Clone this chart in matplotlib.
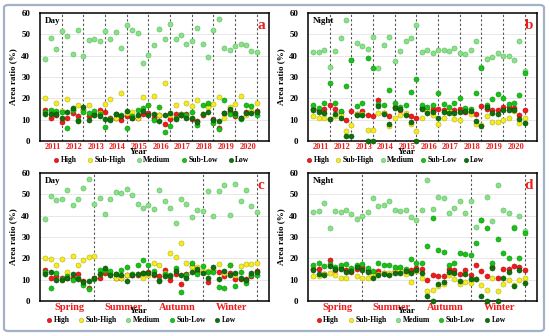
import numpy as np
import matplotlib.pyplot as plt
from matplotlib.lines import Line2D
from matplotlib.patches import FancyBboxPatch

plt.rcParams["font.family"] = ["Liberation Serif", "DejaVu Serif"]
plt.rcParams["font.weight"] = "bold"

years = [str(y) for y in range(2011, 2021)]
seasons = ["Spring", "Summer", "Autumn", "Winter"]
classes = ["High", "Sub-High", "Medium", "Sub-Low", "Low"]
colors = ["#f01c1c", "#f4ec1e", "#86e386", "#16c416", "#0a730a"]
edges = ["#a00000", "#a89e00", "#4fa84f", "#0a7a0a", "#033d03"]

# day, 40 points = 10 years x 4 seasons (spring, summer, autumn, winter)
day_high = [14.6, 11, 12, 9, 11, 13, 11.5, 14.5, 11.5, 12.5,
            14.5, 13.5, 11, 11, 10, 11.5, 11, 11, 12.5, 13,
            11, 12, 8, 10.5, 12.5, 12, 12.5, 10.5, 9.5, 12,
            16.5, 10.5, 6, 13, 14, 11.5, 11, 13.5, 13.5, 14]
day_subhigh = [20.3, 12.5, 18, 14, 19.8, 14.5, 16.7, 15, 17, 12,
               13, 17.2, 19.8, 11, 22.5, 13, 13.5, 11, 20.8, 17,
               21, 12, 27.3, 12, 17, 12.5, 18, 16.5, 19, 12.5,
               16, 17.5, 20.5, 11, 16, 17.5, 21, 12, 14, 18]
day_medium = [38.5, 48.5, 43, 51.5, 49, 41, 52, 40, 47.5, 48,
              47, 51.5, 48, 51, 43.5, 54.5, 52, 50.5, 36.5, 40.3,
              45, 52.5, 48, 55, 48, 49.5, 45.5, 47, 53, 45.5,
              39.5, 52, 57, 43.5, 42.5, 44.5, 45.5, 45, 42, 41.5]
day_sublow = [13.8, 14.5, 14, 13.5, 6, 14.5, 10, 13.8, 13, 14,
              12.5, 6.5, 10.5, 12.5, 12, 6, 11.5, 14.5, 15.5, 17,
              10, 16, 4, 7, 11, 12.5, 12, 13.5, 7.5, 17,
              18, 8.5, 5.5, 19, 12.5, 12, 10.5, 17, 16.5, 12]
day_low = [12.5, 12.8, 12.5, 11, 13.5, 15.5, 9.5, 16, 10, 12,
           11.5, 10.5, 10, 12.5, 11.5, 14, 11, 12, 14, 12,
           12.5, 9.5, 12, 13, 10.5, 12, 11, 11, 9, 12.5,
           13.5, 10, 9.5, 13, 15, 13, 11, 13, 13, 13.5]

night_high = [15, 14.5, 15, 17, 15, 13.5, 10, 14, 12.5, 14,
              12, 11.5, 19, 13, 11.5, 16, 14.5, 12.5, 11.5, 11,
              15.5, 14, 15, 15, 14.5, 14.5, 14.5, 15, 13.5, 13.5,
              12.5, 16.5, 15, 14.5, 14.5, 16, 16, 15.5, 12, 14.5]
night_subhigh = [11.5, 11, 11, 10.5, 11.5, 12, 4.5, 7.5, 12.5, 12.5,
                 5, 5, 13, 13, 7, 11, 12, 13, 8, 4.5,
                 11, 14, 12, 8, 11, 14.5, 10.5, 10, 15, 12.5,
                 8, 7.5, 11.5, 9, 9, 10, 11, 14, 8.5, 11]
night_medium = [41.8, 41.5, 42.5, 34.5, 42.2, 48.3, 56.7, 38, 45.8, 44.5,
                43.2, 48.6, 34, 44.8, 48.9, 37.6, 42.3, 46.8, 48.4, 54.5,
                41.5, 42.8, 41.2, 42.6, 42.8, 42.2, 43.5, 41.2, 40.8, 42.6,
                46.8, 34.5, 38.5, 39.2, 41.2, 40, 39.8, 37.8, 46.8, 33]
night_sublow = [16.8, 15.5, 18, 27, 18, 14, 26, 38, 16.5, 18,
                39, 34, 17.5, 17, 24, 18, 16, 17, 23, 29,
                17, 16, 17, 22.5, 17.5, 16, 18, 20, 15.5, 15,
                22.5, 34, 17, 19.5, 22, 20, 17.5, 18, 21.5, 32]
night_low = [14.5, 13.8, 13, 10.5, 12.5, 11, 2.5, 2.5, 12, 12,
             0, 0, 16.5, 12.5, 8, 15.5, 15, 12, 9, 0,
             15, 13, 13.5, 11, 13.5, 13, 13, 13.5, 14, 14,
             9.5, 7, 16, 13, 12.5, 14.5, 14.5, 14.5, 10.5, 8.5]

day = [day_high, day_subhigh, day_medium, day_sublow, day_low]
night = [night_high, night_subhigh, night_medium, night_sublow, night_low]


def by_season(values):
    """Reordena de (año, estación) a (estación, año)."""
    return np.array(values).reshape(10, 4).T.ravel()


def dibujar_panel(ax, series, group, labels, label_pos, tag, letter,
                  leg_x, colspace):
    x = np.arange(40)
    ax.set_xlim(-1, 41.25)
    ax.set_ylim(0, 60)
    for yv in range(10, 60, 10):
        ax.axhline(yv, color="#e4e4e4", lw=0.6, zorder=0)
    for k in range(group - 1, 40, group):
        ax.axvline(k, color="#555555", lw=0.8, ls=(0, (2, 2)), zorder=1)
    for vals, c, e in zip(series, colors, edges):
        ax.plot(x, vals, "o", ms=3.7, mfc=c, mec=e, mew=0.3,
                clip_on=False, zorder=3)
    ax.set_yticks(range(0, 61, 10))
    ax.set_yticklabels([str(v) for v in range(0, 61, 10)],
                       fontweight="bold", fontsize=6.5)
    ax.set_xticks(label_pos)
    ax.set_xticklabels(labels, color="#f01c1c", fontweight="bold",
                       fontsize=6 if group == 4 else 7.5)
    ax.tick_params(axis="y", length=0, pad=7)
    ax.tick_params(axis="x", length=0, pad=1.5)
    for s in ax.spines.values():
        s.set_linewidth(1.1)
    ax.set_ylabel("Area ratio (%)", fontsize=6.5, fontweight="bold",
                  labelpad=3)
    ax.set_xlabel("Year", fontsize=6.5, fontweight="bold")
    ax.xaxis.set_label_coords(0.43, -0.055 if group == 4 else -0.05)
    ax.text(0.022, 0.94, tag, transform=ax.transAxes, fontsize=6.5,
            fontweight="bold", va="center", ha="left")
    ax.text(0.965, 0.905, letter, transform=ax.transAxes, fontsize=11,
            fontweight="bold", color="#f01c1c", va="center", ha="center")
    handles = [Line2D([], [], ls="", marker="o", ms=3.2, mfc=c, mec=e,
                      mew=0.3) for c, e in zip(colors, edges)]
    ax.legend(handles, classes, loc="center", bbox_to_anchor=(leg_x, -0.15),
              ncol=5, frameon=False, prop={"size": 5.5, "weight": "bold"},
              handletextpad=0.1, columnspacing=colspace, handlelength=1.0,
              borderpad=0)


fig = plt.figure(figsize=(5.5, 3.36), dpi=100)
w, h = 229 / 550, 128 / 336
ax_a = fig.add_axes([40 / 550, 1 - 141 / 336, w, h])
ax_b = fig.add_axes([308 / 550, 1 - 141 / 336, w, h])
ax_c = fig.add_axes([40 / 550, 1 - 301 / 336, w, h])
ax_d = fig.add_axes([308 / 550, 1 - 301 / 336, w, h])

year_pos = [1.3 + 4 * k for k in range(10)]
season_pos = [4.4 + 10 * k for k in range(4)]

dibujar_panel(ax_a, day, 4, years, year_pos, "Day", "a", 0.485, 1.2)
dibujar_panel(ax_b, night, 4, years, year_pos, "Night", "b", 0.38, 0.6)
dibujar_panel(ax_c, [by_season(v) for v in day], 10, seasons, season_pos,
              "Day", "c", 0.44, 1.0)
dibujar_panel(ax_d, [by_season(v) for v in night], 10, seasons, season_pos,
              "Night", "d", 0.447, 1.0)

marco = FancyBboxPatch((4 / 550, 5 / 336), 540 / 550, 326 / 336,
                       boxstyle="round,pad=0,rounding_size=0.008",
                       transform=fig.transFigure, fill=False,
                       ec="#a3b1c8", lw=1.6)
fig.patches.append(marco)

fig.savefig("out.png", dpi=100)
